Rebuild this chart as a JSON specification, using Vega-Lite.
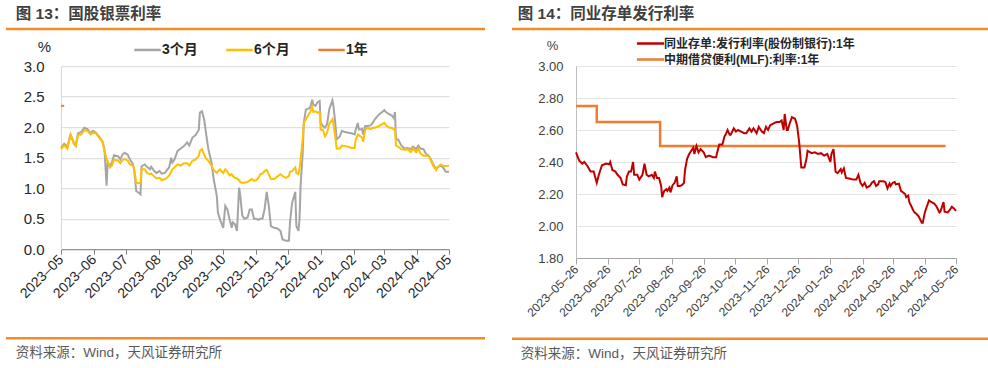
{
  "$schema": "https://vega.github.io/schema/vega-lite/v6.json",
  "background": "white",
  "padding": {"left": 3, "top": 6, "right": 0, "bottom": 0},
  "config": {
    "font": "Liberation Sans, Noto Sans CJK SC, sans-serif",
    "view": {"stroke": null},
    "title": {"font": "Liberation Sans, Noto Sans CJK SC, sans-serif"}
  },
  "spacing": 22,
  "resolve": {"scale": {"color": "independent"}, "legend": {"color": "independent"}},
  "hconcat": [
    {
      "spacing": 4.2,
      "resolve": {"scale": {"color": "independent"}, "legend": {"color": "independent"}},
      "vconcat": [
        {
          "width": 479, "height": 2,
          "title": {"text": "图 13：国股银票利率", "anchor": "start", "dx": 11, "offset": 5, "fontSize": 15.5, "fontWeight": "bold", "color": "#404040"},
          "data": {"values": [{}]},
          "mark": {"type": "rule", "color": "#F28C28", "strokeWidth": 2.5},
          "encoding": {"y": {"datum": 0, "type": "quantitative", "scale": {"domain": [0, 1]}, "axis": null}}
        },
        {
          "spacing": 35,
          "resolve": {"scale": {"color": "independent"}, "legend": {"color": "independent"}},
          "vconcat": [
            {
              "spacing": 0,
              "resolve": {"scale": {"color": "independent"}, "legend": {"color": "independent"}},
              "hconcat": [
                {"width": 1, "height": 1, "data": {"values": [{}]}, "mark": {"type": "point", "opacity": 0}},
                {
                  "width": 388, "height": 183,
                  "data": {"values": [
                    {"d": "2023-05-01", "3个月": 1.66, "6个月": 1.64, "1年": 2.35},
                    {"d": "2023-05-04", "3个月": 1.73, "6个月": 1.70, "1年": 2.35},
                    {"d": "2023-05-07", "3个月": 1.68, "6个月": 1.65},
                    {"d": "2023-05-10", "3个月": 1.88, "6个月": 1.87},
                    {"d": "2023-05-13", "3个月": 1.75, "6个月": 1.73},
                    {"d": "2023-05-15", "3个月": 1.70, "6个月": 1.69},
                    {"d": "2023-05-17", "3个月": 1.90, "6个月": 1.87},
                    {"d": "2023-05-20", "3个月": 1.92, "6个月": 1.88},
                    {"d": "2023-05-23", "3个月": 1.99, "6个月": 1.95},
                    {"d": "2023-05-26", "3个月": 1.97, "6个月": 1.94},
                    {"d": "2023-05-29", "3个月": 1.90, "6个月": 1.88},
                    {"d": "2023-05-31", "3个月": 1.94, "6个月": 1.91},
                    {"d": "2023-06-03", "3个月": 1.91, "6个月": 1.90},
                    {"d": "2023-06-06", "3个月": 1.84, "6个月": 1.83},
                    {"d": "2023-06-09", "3个月": 1.77, "6个月": 1.77},
                    {"d": "2023-06-11", "3个月": 1.64, "6个月": 1.61},
                    {"d": "2023-06-13", "3个月": 1.04, "6个月": 1.47},
                    {"d": "2023-06-14", "3个月": 1.42, "6个月": 1.45},
                    {"d": "2023-06-16", "3个月": 1.36, "6个月": 1.34},
                    {"d": "2023-06-18", "3个月": 1.42, "6个月": 1.37},
                    {"d": "2023-06-20", "3个月": 1.54, "6个月": 1.47},
                    {"d": "2023-06-24", "3个月": 1.52, "6个月": 1.45},
                    {"d": "2023-06-26", "3个月": 1.47, "6个月": 1.41},
                    {"d": "2023-06-28", "3个月": 1.55, "6个月": 1.46},
                    {"d": "2023-06-30", "3个月": 1.58, "6个月": 1.48},
                    {"d": "2023-07-03", "3个月": 1.55, "6个月": 1.45},
                    {"d": "2023-07-05", "3个月": 1.47, "6个月": 1.39},
                    {"d": "2023-07-08", "3个月": 1.39, "6个月": 1.37},
                    {"d": "2023-07-09", "3个月": 1.31, "6个月": 1.31},
                    {"d": "2023-07-11", "3个月": 0.95, "6个月": 1.09},
                    {"d": "2023-07-13", "3个月": 0.93, "6个月": 1.08},
                    {"d": "2023-07-15", "3个月": 0.90, "6个月": 1.09},
                    {"d": "2023-07-16", "3个月": 1.36, "6个月": 1.31},
                    {"d": "2023-07-19", "3个月": 1.39, "6个月": 1.31},
                    {"d": "2023-07-21", "3个月": 1.35, "6个月": 1.25},
                    {"d": "2023-07-24", "3个月": 1.31, "6个月": 1.23},
                    {"d": "2023-07-25", "3个月": 1.35, "6个月": 1.24},
                    {"d": "2023-07-28", "3个月": 1.28, "6个月": 1.19},
                    {"d": "2023-07-30", "3个月": 1.25, "6个月": 1.16},
                    {"d": "2023-08-02", "3个月": 1.28, "6个月": 1.17},
                    {"d": "2023-08-04", "3个月": 1.24, "6个月": 1.13},
                    {"d": "2023-08-07", "3个月": 1.25, "6个月": 1.15},
                    {"d": "2023-08-09", "3个月": 1.30, "6个月": 1.17},
                    {"d": "2023-08-11", "3个月": 1.34, "6个月": 1.21},
                    {"d": "2023-08-13", "3个月": 1.50, "6个月": 1.27},
                    {"d": "2023-08-14", "3个月": 1.42, "6个月": 1.31},
                    {"d": "2023-08-16", "3个月": 1.47, "6个月": 1.34},
                    {"d": "2023-08-19", "3个月": 1.61, "6个月": 1.39},
                    {"d": "2023-08-22", "3个月": 1.65, "6个月": 1.37},
                    {"d": "2023-08-25", "3个月": 1.69, "6个月": 1.41},
                    {"d": "2023-08-28", "3个月": 1.75, "6个月": 1.41},
                    {"d": "2023-08-30", "3个月": 1.70, "6个月": 1.37},
                    {"d": "2023-09-02", "3个月": 1.83, "6个月": 1.45},
                    {"d": "2023-09-05", "3个月": 1.87, "6个月": 1.47},
                    {"d": "2023-09-08", "3个月": 1.96, "6个月": 1.53},
                    {"d": "2023-09-09", "3个月": 2.24, "6个月": 1.61},
                    {"d": "2023-09-11", "3个月": 2.26, "6个月": 1.64},
                    {"d": "2023-09-13", "3个月": 2.13, "6个月": 1.55},
                    {"d": "2023-09-15", "3个月": 1.88, "6个月": 1.48},
                    {"d": "2023-09-17", "3个月": 1.64, "6个月": 1.45},
                    {"d": "2023-09-20", "3个月": 1.42, "6个月": 1.37},
                    {"d": "2023-09-22", "3个月": 1.15, "6个月": 1.30},
                    {"d": "2023-09-25", "3个月": 0.87, "6个月": 1.25},
                    {"d": "2023-09-26", "3个月": 0.60, "6个月": 1.28},
                    {"d": "2023-09-28", "3个月": 0.49, "6个月": 1.31},
                    {"d": "2023-10-01", "3个月": 0.35, "6个月": 1.25},
                    {"d": "2023-10-03", "3个月": 0.71, "6个月": 1.31},
                    {"d": "2023-10-05", "3个月": 0.65, "6个月": 1.27},
                    {"d": "2023-10-07", "3个月": 0.49, "6个月": 1.21},
                    {"d": "2023-10-09", "3个月": 0.35, "6个月": 1.23},
                    {"d": "2023-10-10", "3个月": 0.44, "6个月": 1.20},
                    {"d": "2023-10-12", "3个月": 0.41, "6个月": 1.17},
                    {"d": "2023-10-14", "3个月": 0.30, "6个月": 1.16},
                    {"d": "2023-10-16", "3个月": 1.01, "6个月": 1.13},
                    {"d": "2023-10-17", "3个月": 0.90, "6个月": 1.10},
                    {"d": "2023-10-19", "3个月": 0.55, "6个月": 1.09},
                    {"d": "2023-10-21", "3个月": 0.50, "6个月": 1.09},
                    {"d": "2023-10-24", "3个月": 0.52, "6个月": 1.10},
                    {"d": "2023-10-26", "3个月": 0.65, "6个月": 1.13},
                    {"d": "2023-10-28", "3个月": 0.65, "6个月": 1.15},
                    {"d": "2023-10-30", "3个月": 0.50, "6个月": 1.12},
                    {"d": "2023-11-01", "3个月": 0.50, "6个月": 1.13},
                    {"d": "2023-11-03", "3个月": 0.48, "6个月": 1.16},
                    {"d": "2023-11-05", "3个月": 0.50, "6个月": 1.23},
                    {"d": "2023-11-07", "3个月": 0.50, "6个月": 1.24},
                    {"d": "2023-11-09", "3个月": 0.65, "6个月": 1.28},
                    {"d": "2023-11-11", "3个月": 0.94, "6个月": 1.30},
                    {"d": "2023-11-13", "3个月": 0.71, "6个月": 1.23},
                    {"d": "2023-11-15", "3个月": 0.38, "6个月": 1.15},
                    {"d": "2023-11-18", "3个月": 0.35, "6个月": 1.15},
                    {"d": "2023-11-21", "3个月": 0.34, "6个月": 1.19},
                    {"d": "2023-11-24", "3个月": 0.30, "6个月": 1.23},
                    {"d": "2023-11-26", "3个月": 0.16, "6个月": 1.20},
                    {"d": "2023-11-29", "3个月": 0.14, "6个月": 1.17},
                    {"d": "2023-12-02", "3个月": 0.14, "6个月": 1.20},
                    {"d": "2023-12-03", "3个月": 0.44, "6个月": 1.27},
                    {"d": "2023-12-05", "3个月": 0.76, "6个月": 1.28},
                    {"d": "2023-12-08", "3个月": 0.94, "6个月": 1.34},
                    {"d": "2023-12-09", "3个月": 0.38, "6个月": 1.25},
                    {"d": "2023-12-11", "3个月": 0.30, "6个月": 1.23},
                    {"d": "2023-12-12", "3个月": 0.49, "6个月": 1.31},
                    {"d": "2023-12-13", "3个月": 1.04, "6个月": 1.47},
                    {"d": "2023-12-15", "3个月": 1.58, "6个月": 1.80},
                    {"d": "2023-12-16", "3个月": 2.07, "6个月": 2.07},
                    {"d": "2023-12-18", "3个月": 2.29, "6个月": 2.13},
                    {"d": "2023-12-20", "3个月": 2.30, "6个月": 2.19},
                    {"d": "2023-12-22", "3个月": 2.32, "6个月": 2.25},
                    {"d": "2023-12-24", "3个月": 2.45, "6个月": 2.33},
                    {"d": "2023-12-25", "3个月": 2.37, "6个月": 2.25},
                    {"d": "2023-12-27", "3个月": 2.35, "6个月": 2.26},
                    {"d": "2023-12-29", "3个月": 2.41, "6个月": 2.24},
                    {"d": "2023-12-31", "3个月": 2.43, "6个月": 2.25},
                    {"d": "2024-01-01", "3个月": 2.07, "6个月": 1.96},
                    {"d": "2024-01-03", "3个月": 2.02, "6个月": 1.96},
                    {"d": "2024-01-05", "3个月": 1.99, "6个月": 1.85},
                    {"d": "2024-01-07", "3个月": 2.05, "6个月": 1.91},
                    {"d": "2024-01-09", "3个月": 2.29, "6个月": 2.05},
                    {"d": "2024-01-12", "3个月": 2.44, "6个月": 2.13},
                    {"d": "2024-01-13", "3个月": 2.35, "6个月": 2.06},
                    {"d": "2024-01-15", "3个月": 2.02, "6个月": 1.80},
                    {"d": "2024-01-16", "3个月": 1.80, "6个月": 1.65},
                    {"d": "2024-01-19", "3个月": 1.85, "6个月": 1.65},
                    {"d": "2024-01-21", "3个月": 1.94, "6个月": 1.70},
                    {"d": "2024-01-24", "3个月": 1.92, "6个月": 1.69},
                    {"d": "2024-01-27", "3个月": 1.91, "6个月": 1.68},
                    {"d": "2024-01-30", "3个月": 1.90, "6个月": 1.66},
                    {"d": "2024-02-02", "3个月": 1.88, "6个月": 1.66},
                    {"d": "2024-02-03", "3个月": 1.96, "6个月": 1.80},
                    {"d": "2024-02-05", "3个月": 2.07, "6个月": 1.88},
                    {"d": "2024-02-06", "3个月": 1.96, "6个月": 1.87},
                    {"d": "2024-02-09", "3个月": 1.97, "6个月": 1.83},
                    {"d": "2024-02-10", "3个月": 1.88, "6个月": 1.76},
                    {"d": "2024-02-12", "3个月": 2.02, "6个月": 1.96},
                    {"d": "2024-02-14", "3个月": 2.02, "6个月": 1.99},
                    {"d": "2024-02-17", "3个月": 2.03, "6个月": 1.97},
                    {"d": "2024-02-19", "3个月": 2.07, "6个月": 1.99},
                    {"d": "2024-02-21", "3个月": 2.13, "6个月": 1.99},
                    {"d": "2024-02-25", "3个月": 2.21, "6个月": 2.02},
                    {"d": "2024-02-28", "3个月": 2.25, "6个月": 2.05},
                    {"d": "2024-03-01", "3个月": 2.28, "6个月": 2.07},
                    {"d": "2024-03-03", "3个月": 2.24, "6个月": 2.02},
                    {"d": "2024-03-06", "3个月": 2.21, "6个月": 1.99},
                    {"d": "2024-03-08", "3个月": 2.19, "6个月": 1.99},
                    {"d": "2024-03-10", "3个月": 2.15, "6个月": 1.96},
                    {"d": "2024-03-11", "3个月": 2.25, "6个月": 1.97},
                    {"d": "2024-03-12", "3个月": 1.80, "6个月": 1.70},
                    {"d": "2024-03-14", "3个月": 1.80, "6个月": 1.68},
                    {"d": "2024-03-17", "3个月": 1.70, "6个月": 1.64},
                    {"d": "2024-03-20", "3个月": 1.65, "6个月": 1.63},
                    {"d": "2024-03-23", "3个月": 1.66, "6个月": 1.64},
                    {"d": "2024-03-26", "3个月": 1.64, "6个月": 1.59},
                    {"d": "2024-03-28", "3个月": 1.68, "6个月": 1.65},
                    {"d": "2024-03-31", "3个月": 1.64, "6个月": 1.59},
                    {"d": "2024-04-02", "3个月": 1.70, "6个月": 1.65},
                    {"d": "2024-04-04", "3个月": 1.65, "6个月": 1.57},
                    {"d": "2024-04-07", "3个月": 1.64, "6个月": 1.53},
                    {"d": "2024-04-09", "3个月": 1.57, "6个月": 1.53},
                    {"d": "2024-04-12", "3个月": 1.53, "6个月": 1.53},
                    {"d": "2024-04-14", "3个月": 1.47, "6个月": 1.45},
                    {"d": "2024-04-16", "3个月": 1.39, "6个月": 1.37},
                    {"d": "2024-04-19", "3个月": 1.31, "6个月": 1.30},
                    {"d": "2024-04-20", "3个月": 1.34, "6个月": 1.34},
                    {"d": "2024-04-23", "3个月": 1.37, "6个月": 1.39},
                    {"d": "2024-04-25", "3个月": 1.35, "6个月": 1.37},
                    {"d": "2024-04-28", "3个月": 1.27, "6个月": 1.36},
                    {"d": "2024-05-01", "3个月": 1.27, "6个月": 1.37}
                  ]},
                  "transform": [{"fold": ["3个月", "6个月", "1年"], "as": ["s", "v"]}],
                  "mark": {"type": "line", "strokeWidth": 2},
                  "encoding": {
                    "x": {
                      "field": "d", "type": "temporal",
                      "scale": {"domain": [{"year": 2023, "month": 5, "date": 1}, {"year": 2024, "month": 5, "date": 1}]},
                      "axis": {
                        "title": null, "grid": false, "format": "%Y–%m",
                        "values": [
                          {"year": 2023, "month": 5, "date": 1}, {"year": 2023, "month": 6, "date": 1}, {"year": 2023, "month": 7, "date": 1},
                          {"year": 2023, "month": 8, "date": 1}, {"year": 2023, "month": 9, "date": 1}, {"year": 2023, "month": 10, "date": 1},
                          {"year": 2023, "month": 11, "date": 1}, {"year": 2023, "month": 12, "date": 1}, {"year": 2024, "month": 1, "date": 1},
                          {"year": 2024, "month": 2, "date": 1}, {"year": 2024, "month": 3, "date": 1}, {"year": 2024, "month": 4, "date": 1},
                          {"year": 2024, "month": 5, "date": 1}
                        ],
                        "labelAngle": -45, "labelAlign": "right", "labelBaseline": "middle",
                        "labelFontSize": 14, "labelColor": "#262626", "labelPadding": 3,
                        "tickSize": 5, "tickColor": "#808080", "domainColor": "#808080", "labelOverlap": false, "labelFlush": false
                      }
                    },
                    "y": {
                      "field": "v", "type": "quantitative",
                      "scale": {"domain": [0, 3]},
                      "axis": {
                        "values": [0, 0.5, 1, 1.5, 2, 2.5, 3], "format": ".1f",
                        "labelFontSize": 15, "labelColor": "#262626", "ticks": false, "labelPadding": 17,
                        "domainColor": "#D9D9D9", "gridColor": "#D9D9D9",
                        "title": "%", "titleAngle": 0, "titleX": -17, "titleY": -20, "titleAlign": "center", "titleBaseline": "middle",
                        "titleFontSize": 15, "titleFontWeight": "normal", "titleColor": "#262626", "minExtent": 51
                      }
                    },
                    "color": {
                      "field": "s", "type": "nominal",
                      "scale": {"domain": ["3个月", "6个月", "1年"], "range": ["#A5A5A5", "#FFC000", "#ED7D31"]},
                      "legend": {
                        "title": null, "orient": "none", "legendX": 72, "legendY": -31, "direction": "horizontal",
                        "symbolType": "stroke", "symbolSize": 700, "symbolStrokeWidth": 2.5,
                        "labelFontSize": 14, "labelFontWeight": "bold", "labelColor": "#262626", "labelOffset": 0, "columnPadding": 23, "labelLimit": 400
                      }
                    }
                  }
                }
              ]
            },
            {
              "width": 479, "height": 2,
              "title": {"text": "资料来源：Wind，天风证券研究所", "orient": "bottom", "anchor": "start", "dx": 11, "offset": 6, "fontSize": 13.5, "fontWeight": "normal", "color": "#595959"},
              "data": {"values": [{}]},
              "mark": {"type": "rule", "color": "#F28C28", "strokeWidth": 2.5},
              "encoding": {"y": {"datum": 1, "type": "quantitative", "scale": {"domain": [0, 1]}, "axis": null}}
            }
          ]
        }
      ]
    },
    {
      "spacing": 3,
      "resolve": {"scale": {"color": "independent"}, "legend": {"color": "independent"}},
      "vconcat": [
        {
          "width": 481, "height": 2,
          "title": {"text": "图 14：同业存单发行利率", "anchor": "start", "dx": 7, "offset": 5, "fontSize": 15.5, "fontWeight": "bold", "color": "#404040"},
          "data": {"values": [{}]},
          "mark": {"type": "rule", "color": "#F28C28", "strokeWidth": 2.5},
          "encoding": {"y": {"datum": 0, "type": "quantitative", "scale": {"domain": [0, 1]}, "axis": null}}
        },
        {
          "spacing": 17.7,
          "resolve": {"scale": {"color": "independent"}, "legend": {"color": "independent"}},
          "vconcat": [
            {
              "spacing": 0,
              "resolve": {"scale": {"color": "independent"}, "legend": {"color": "independent"}},
              "hconcat": [
                {"width": 1, "height": 1, "data": {"values": [{}]}, "mark": {"type": "point", "opacity": 0}},
                {
                  "width": 380, "height": 192,
                  "layer": [
                    {
                      "data": {"values": [
                        {"d": "2023-05-26", "v": 2.75},
                        {"d": "2023-06-15", "v": 2.65},
                        {"d": "2023-08-15", "v": 2.50},
                        {"d": "2024-05-16", "v": 2.50}
                      ]},
                      "mark": {"type": "line", "strokeWidth": 2.5, "interpolate": "step-after"},
                      "encoding": {
                        "x": {"field": "d", "type": "temporal"},
                        "y": {"field": "v", "type": "quantitative"},
                        "color": {"datum": "中期借贷便利(MLF):利率:1年"}
                      }
                    },
                    {
                      "data": {"values": [
                        {"d": "2023-05-26", "v": 2.46}, {"d": "2023-05-29", "v": 2.41}, {"d": "2023-06-01", "v": 2.39}, {"d": "2023-06-03", "v": 2.40},
                        {"d": "2023-06-06", "v": 2.375}, {"d": "2023-06-09", "v": 2.34}, {"d": "2023-06-12", "v": 2.34}, {"d": "2023-06-15", "v": 2.27},
                        {"d": "2023-06-17", "v": 2.32}, {"d": "2023-06-20", "v": 2.38}, {"d": "2023-06-24", "v": 2.39}, {"d": "2023-06-27", "v": 2.385},
                        {"d": "2023-06-28", "v": 2.40}, {"d": "2023-06-30", "v": 2.35}, {"d": "2023-07-03", "v": 2.34}, {"d": "2023-07-05", "v": 2.32},
                        {"d": "2023-07-08", "v": 2.30}, {"d": "2023-07-10", "v": 2.26}, {"d": "2023-07-13", "v": 2.255}, {"d": "2023-07-14", "v": 2.31},
                        {"d": "2023-07-16", "v": 2.34}, {"d": "2023-07-18", "v": 2.34}, {"d": "2023-07-20", "v": 2.40}, {"d": "2023-07-21", "v": 2.32},
                        {"d": "2023-07-24", "v": 2.32}, {"d": "2023-07-26", "v": 2.29}, {"d": "2023-07-29", "v": 2.32}, {"d": "2023-07-31", "v": 2.39},
                        {"d": "2023-08-02", "v": 2.32}, {"d": "2023-08-04", "v": 2.31}, {"d": "2023-08-07", "v": 2.32}, {"d": "2023-08-09", "v": 2.30},
                        {"d": "2023-08-10", "v": 2.34}, {"d": "2023-08-12", "v": 2.30}, {"d": "2023-08-14", "v": 2.30}, {"d": "2023-08-16", "v": 2.25},
                        {"d": "2023-08-17", "v": 2.18}, {"d": "2023-08-19", "v": 2.22}, {"d": "2023-08-21", "v": 2.23}, {"d": "2023-08-22", "v": 2.22},
                        {"d": "2023-08-24", "v": 2.24}, {"d": "2023-08-25", "v": 2.21}, {"d": "2023-08-27", "v": 2.255}, {"d": "2023-08-29", "v": 2.27},
                        {"d": "2023-08-31", "v": 2.31}, {"d": "2023-09-01", "v": 2.25}, {"d": "2023-09-03", "v": 2.25}, {"d": "2023-09-05", "v": 2.255},
                        {"d": "2023-09-07", "v": 2.27}, {"d": "2023-09-08", "v": 2.35}, {"d": "2023-09-10", "v": 2.42}, {"d": "2023-09-12", "v": 2.45},
                        {"d": "2023-09-14", "v": 2.47}, {"d": "2023-09-16", "v": 2.49}, {"d": "2023-09-17", "v": 2.45}, {"d": "2023-09-19", "v": 2.50},
                        {"d": "2023-09-21", "v": 2.46}, {"d": "2023-09-23", "v": 2.48}, {"d": "2023-09-26", "v": 2.46}, {"d": "2023-09-28", "v": 2.43},
                        {"d": "2023-10-01", "v": 2.44}, {"d": "2023-10-05", "v": 2.43}, {"d": "2023-10-08", "v": 2.43}, {"d": "2023-10-09", "v": 2.46},
                        {"d": "2023-10-11", "v": 2.51}, {"d": "2023-10-13", "v": 2.51}, {"d": "2023-10-14", "v": 2.51}, {"d": "2023-10-16", "v": 2.56},
                        {"d": "2023-10-17", "v": 2.57}, {"d": "2023-10-19", "v": 2.60}, {"d": "2023-10-21", "v": 2.57}, {"d": "2023-10-22", "v": 2.57},
                        {"d": "2023-10-25", "v": 2.61}, {"d": "2023-10-27", "v": 2.59}, {"d": "2023-10-29", "v": 2.60}, {"d": "2023-11-01", "v": 2.59},
                        {"d": "2023-11-04", "v": 2.58}, {"d": "2023-11-06", "v": 2.58}, {"d": "2023-11-09", "v": 2.61}, {"d": "2023-11-11", "v": 2.59},
                        {"d": "2023-11-13", "v": 2.61}, {"d": "2023-11-16", "v": 2.58}, {"d": "2023-11-18", "v": 2.62}, {"d": "2023-11-21", "v": 2.59},
                        {"d": "2023-11-23", "v": 2.58}, {"d": "2023-11-25", "v": 2.62}, {"d": "2023-11-27", "v": 2.60}, {"d": "2023-11-29", "v": 2.63},
                        {"d": "2023-12-02", "v": 2.64}, {"d": "2023-12-05", "v": 2.65}, {"d": "2023-12-08", "v": 2.65}, {"d": "2023-12-10", "v": 2.66},
                        {"d": "2023-12-12", "v": 2.60}, {"d": "2023-12-13", "v": 2.70}, {"d": "2023-12-15", "v": 2.60}, {"d": "2023-12-16", "v": 2.60},
                        {"d": "2023-12-18", "v": 2.645}, {"d": "2023-12-20", "v": 2.68}, {"d": "2023-12-23", "v": 2.67}, {"d": "2023-12-25", "v": 2.625},
                        {"d": "2023-12-27", "v": 2.52}, {"d": "2023-12-29", "v": 2.365}, {"d": "2024-01-01", "v": 2.365}, {"d": "2024-01-03", "v": 2.42},
                        {"d": "2024-01-04", "v": 2.47}, {"d": "2024-01-08", "v": 2.455}, {"d": "2024-01-11", "v": 2.46}, {"d": "2024-01-14", "v": 2.45},
                        {"d": "2024-01-17", "v": 2.455}, {"d": "2024-01-20", "v": 2.44}, {"d": "2024-01-23", "v": 2.45}, {"d": "2024-01-26", "v": 2.40},
                        {"d": "2024-01-27", "v": 2.45}, {"d": "2024-01-29", "v": 2.48}, {"d": "2024-01-31", "v": 2.34}, {"d": "2024-02-02", "v": 2.33},
                        {"d": "2024-02-05", "v": 2.355}, {"d": "2024-02-06", "v": 2.335}, {"d": "2024-02-08", "v": 2.36}, {"d": "2024-02-10", "v": 2.30},
                        {"d": "2024-02-14", "v": 2.295}, {"d": "2024-02-17", "v": 2.29}, {"d": "2024-02-20", "v": 2.29}, {"d": "2024-02-22", "v": 2.32},
                        {"d": "2024-02-24", "v": 2.27}, {"d": "2024-02-26", "v": 2.25}, {"d": "2024-02-28", "v": 2.27}, {"d": "2024-03-01", "v": 2.24},
                        {"d": "2024-03-04", "v": 2.25}, {"d": "2024-03-06", "v": 2.27}, {"d": "2024-03-08", "v": 2.28}, {"d": "2024-03-10", "v": 2.25},
                        {"d": "2024-03-12", "v": 2.26}, {"d": "2024-03-13", "v": 2.28}, {"d": "2024-03-17", "v": 2.28}, {"d": "2024-03-19", "v": 2.275},
                        {"d": "2024-03-21", "v": 2.235}, {"d": "2024-03-23", "v": 2.265}, {"d": "2024-03-24", "v": 2.25}, {"d": "2024-03-26", "v": 2.27},
                        {"d": "2024-03-28", "v": 2.275}, {"d": "2024-03-29", "v": 2.26}, {"d": "2024-04-01", "v": 2.265}, {"d": "2024-04-03", "v": 2.22},
                        {"d": "2024-04-07", "v": 2.20}, {"d": "2024-04-08", "v": 2.18}, {"d": "2024-04-10", "v": 2.19}, {"d": "2024-04-11", "v": 2.15},
                        {"d": "2024-04-15", "v": 2.095}, {"d": "2024-04-16", "v": 2.085}, {"d": "2024-04-18", "v": 2.075}, {"d": "2024-04-20", "v": 2.06},
                        {"d": "2024-04-23", "v": 2.02}, {"d": "2024-04-24", "v": 2.02}, {"d": "2024-04-26", "v": 2.085}, {"d": "2024-04-27", "v": 2.105},
                        {"d": "2024-04-30", "v": 2.16}, {"d": "2024-05-02", "v": 2.15}, {"d": "2024-05-05", "v": 2.14}, {"d": "2024-05-07", "v": 2.125},
                        {"d": "2024-05-10", "v": 2.085}, {"d": "2024-05-11", "v": 2.09}, {"d": "2024-05-14", "v": 2.15}, {"d": "2024-05-15", "v": 2.09},
                        {"d": "2024-05-18", "v": 2.085}, {"d": "2024-05-20", "v": 2.10}, {"d": "2024-05-22", "v": 2.12}, {"d": "2024-05-24", "v": 2.11},
                        {"d": "2024-05-26", "v": 2.095}
                      ]},
                      "mark": {"type": "line", "strokeWidth": 2},
                      "encoding": {
                        "x": {"field": "d", "type": "temporal"},
                        "y": {"field": "v", "type": "quantitative"},
                        "color": {"datum": "同业存单:发行利率(股份制银行):1年"}
                      }
                    }
                  ],
                  "encoding": {
                    "x": {
                      "field": "d", "type": "temporal",
                      "scale": {"domain": [{"year": 2023, "month": 5, "date": 26}, {"year": 2024, "month": 5, "date": 26}]},
                      "axis": {
                        "title": null, "grid": false, "format": "%Y–%m–%d",
                        "values": [
                          {"year": 2023, "month": 5, "date": 26}, {"year": 2023, "month": 6, "date": 26}, {"year": 2023, "month": 7, "date": 26},
                          {"year": 2023, "month": 8, "date": 26}, {"year": 2023, "month": 9, "date": 26}, {"year": 2023, "month": 10, "date": 26},
                          {"year": 2023, "month": 11, "date": 26}, {"year": 2023, "month": 12, "date": 26}, {"year": 2024, "month": 1, "date": 26},
                          {"year": 2024, "month": 2, "date": 26}, {"year": 2024, "month": 3, "date": 26}, {"year": 2024, "month": 4, "date": 26},
                          {"year": 2024, "month": 5, "date": 26}
                        ],
                        "labelAngle": -45, "labelAlign": "right", "labelBaseline": "middle",
                        "labelFontSize": 12, "labelColor": "#404040", "labelPadding": 3,
                        "tickSize": 6, "tickColor": "#A6A6A6", "domainColor": "#A6A6A6", "labelOverlap": false, "labelFlush": false
                      }
                    },
                    "y": {
                      "field": "v", "type": "quantitative",
                      "scale": {"domain": [1.8, 3.0]},
                      "axis": {
                        "values": [1.8, 2.0, 2.2, 2.4, 2.6, 2.8, 3.0], "format": ".2f",
                        "labelFontSize": 13, "labelColor": "#404040", "ticks": false, "labelPadding": 13,
                        "domainColor": "#BFBFBF", "gridColor": "#E3E3E3",
                        "title": "%", "titleAngle": 0, "titleX": -24, "titleY": -21, "titleAlign": "center", "titleBaseline": "middle",
                        "titleFontSize": 13, "titleFontWeight": "normal", "titleColor": "#404040", "minExtent": 60
                      }
                    },
                    "color": {
                      "type": "nominal",
                      "scale": {"domain": ["同业存单:发行利率(股份制银行):1年", "中期借贷便利(MLF):利率:1年"], "range": ["#C00000", "#ED7D31"]},
                      "legend": {
                        "title": null, "orient": "none", "legendX": 65, "legendY": -32, "direction": "vertical",
                        "symbolType": "M-1.7,0L1.7,0", "symbolSize": 256, "symbolStrokeWidth": 2.5, "rowPadding": 0,
                        "labelFontSize": 12, "labelFontWeight": "bold", "labelColor": "#262626", "labelOffset": 4, "labelLimit": 400
                      }
                    }
                  }
                }
              ]
            },
            {
              "width": 481, "height": 2,
              "title": {"text": "资料来源：Wind，天风证券研究所", "orient": "bottom", "anchor": "start", "dx": 10, "offset": 6, "fontSize": 13.5, "fontWeight": "normal", "color": "#595959"},
              "data": {"values": [{}]},
              "mark": {"type": "rule", "color": "#F28C28", "strokeWidth": 2.5},
              "encoding": {"y": {"datum": 1, "type": "quantitative", "scale": {"domain": [0, 1]}, "axis": null}}
            }
          ]
        }
      ]
    }
  ]
}
